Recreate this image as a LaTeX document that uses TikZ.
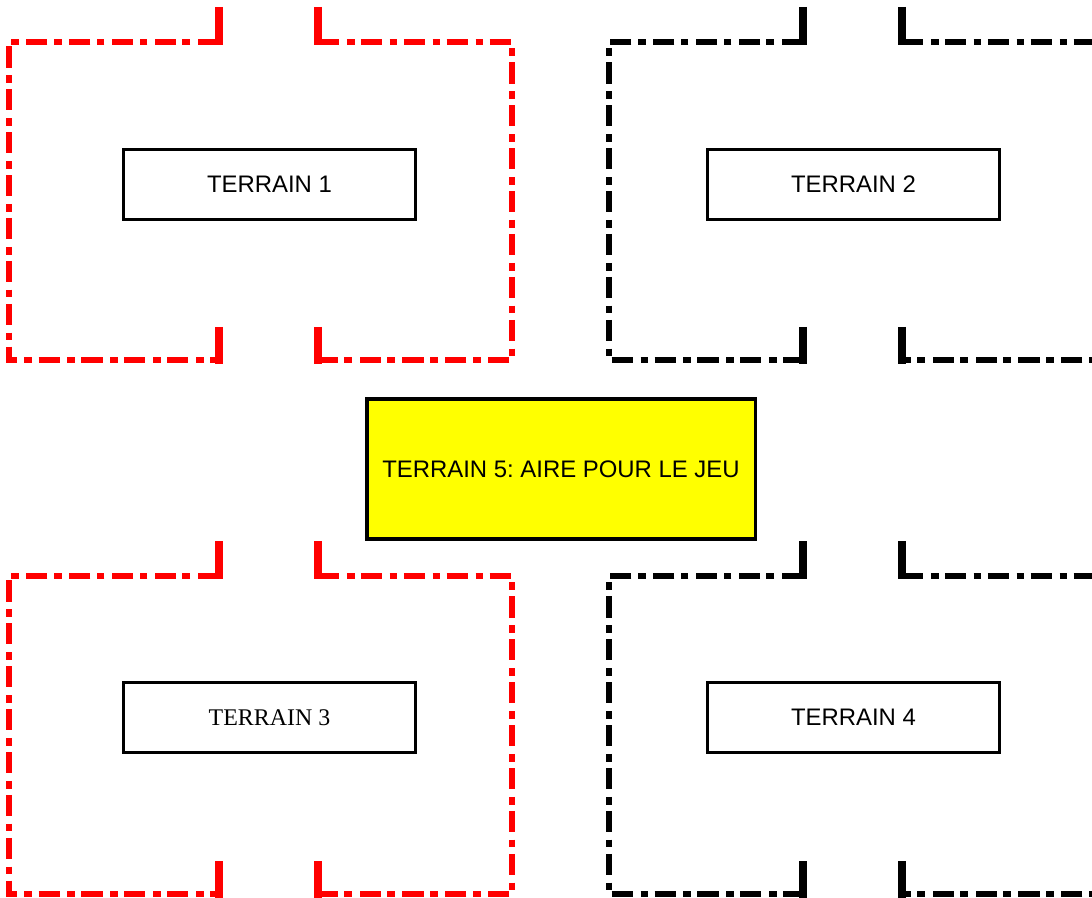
\documentclass[tikz,border=0pt]{standalone}
\usepackage{fontspec}
\setmainfont{Liberation Sans}
\newfontfamily\serifterrain{Liberation Serif}
\usepackage{tikz}
\usetikzlibrary{positioning}
\definecolor{jaune}{RGB}{255,255,0}
\definecolor{rouge}{RGB}{255,0,0}
\frenchspacing

\tikzset{
  terrain/.style={draw, line width=1.5pt, minimum width=7.3cm, minimum height=1.75cm, font=\fontsize{17}{20}\selectfont},
  jeu/.style={draw, fill=jaune, line width=2.2pt, minimum width=9.7cm, minimum height=3.5cm, font=\fontsize{17}{20}\selectfont},
  limite/.style={line width=3.8pt, dash pattern=on 15pt off 5.5pt on 5.5pt off 4.5pt},
  but/.style={line width=5pt}
}

\begin{document}
\begin{tikzpicture}[x=0.025cm, y=-0.025cm]
\useasboundingbox (0,0) rectangle (1092,898);
\clip (0,0) rectangle (1092,898);

% terrain 1 (rouge)
\draw[limite,rouge] (219,42) -- (9,42) -- (9,360) -- (219,360);
\draw[limite,rouge] (318,42) -- (512,42) -- (512,360) -- (318,360);
\draw[but,rouge] (219,7) -- (219,45) (318,7) -- (318,45);
\draw[but,rouge] (219,327) -- (219,364) (318,327) -- (318,364);
\node (t1) at (269.5,184.5) [terrain] {TERRAIN 1};

% terrain 2 (noir)
\draw[limite] (803,42) -- (609,42) -- (609,360) -- (803,360);
\draw[limite] (902,42) -- (1112,42) -- (1112,360) -- (902,360);
\draw[but] (803,7) -- (803,45) (902,7) -- (902,45);
\draw[but] (803,327) -- (803,364) (902,327) -- (902,364);
\node (t2) at (853.5,184.5) [terrain] {TERRAIN 2};

% terrain 3 (rouge)
\draw[limite,rouge] (219,576) -- (9,576) -- (9,894) -- (219,894);
\draw[limite,rouge] (318,576) -- (512,576) -- (512,894) -- (318,894);
\draw[but,rouge] (219,541) -- (219,579) (318,541) -- (318,579);
\draw[but,rouge] (219,861) -- (219,898) (318,861) -- (318,898);
\node (t3) at (269.5,717.5) [terrain, font=\serifterrain\fontsize{17}{20}\selectfont] {TERRAIN 3};

% terrain 4 (noir)
\draw[limite] (803,576) -- (609,576) -- (609,894) -- (803,894);
\draw[limite] (902,576) -- (1112,576) -- (1112,894) -- (902,894);
\draw[but] (803,541) -- (803,579) (902,541) -- (902,579);
\draw[but] (803,861) -- (803,898) (902,861) -- (902,898);
\node (t4) at (853.5,717.5) [terrain] {TERRAIN 4};

% aire de jeu
\node (t5) at (561,469) [jeu] {TERRAIN 5: AIRE POUR LE JEU};
\end{tikzpicture}
\end{document}
